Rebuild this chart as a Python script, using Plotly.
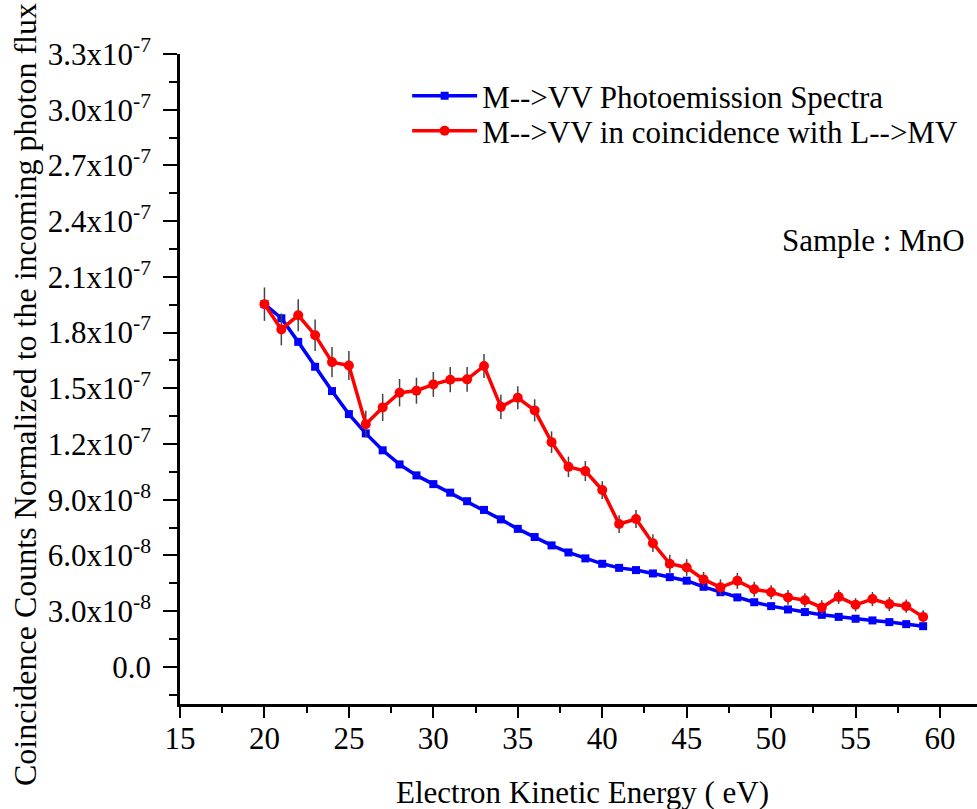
import plotly.graph_objects as go

# Electron kinetic energy (eV)
energy = list(range(20, 60))

# Values in units of 1e-8
photoemission = [19.53, 18.77, 17.50, 16.16, 14.85, 13.61, 12.57, 11.66, 10.90, 10.31,
                 9.84, 9.38, 8.92, 8.45, 7.94, 7.43, 6.99, 6.54, 6.16, 5.84,
                 5.55, 5.33, 5.21, 5.03, 4.83, 4.64, 4.31, 4.02, 3.74, 3.48,
                 3.27, 3.09, 2.95, 2.80, 2.69, 2.59, 2.50, 2.41, 2.30, 2.19]

coincidence = [19.53, 18.17, 18.93, 17.86, 16.41, 16.23, 13.07, 13.97, 14.76, 14.87,
               15.21, 15.46, 15.48, 16.20, 14.00, 14.49, 13.81, 12.10, 10.77, 10.54,
               9.52, 7.69, 7.96, 6.66, 5.55, 5.35, 4.71, 4.28, 4.63, 4.18,
               4.02, 3.74, 3.59, 3.20, 3.77, 3.34, 3.65, 3.38, 3.27, 2.69]

coincidence_err = [0.90, 0.86, 0.86, 0.85, 0.81, 0.78, 0.72, 0.73, 0.74, 0.70,
                   0.67, 0.68, 0.66, 0.64, 0.65, 0.62, 0.60, 0.58, 0.55, 0.54,
                   0.48, 0.48, 0.48, 0.48, 0.48, 0.45, 0.40, 0.43, 0.43, 0.40,
                   0.38, 0.40, 0.38, 0.38, 0.38, 0.36, 0.38, 0.38, 0.36, 0.36]

unit = 1e-8

y_tickvals = [0, 3e-8, 6e-8, 9e-8, 1.2e-7, 1.5e-7, 1.8e-7, 2.1e-7, 2.4e-7, 2.7e-7, 3.0e-7, 3.3e-7]
y_ticktext = ["0.0", "3.0x10<sup>-8</sup>", "6.0x10<sup>-8</sup>", "9.0x10<sup>-8</sup>",
              "1.2x10<sup>-7</sup>", "1.5x10<sup>-7</sup>", "1.8x10<sup>-7</sup>",
              "2.1x10<sup>-7</sup>", "2.4x10<sup>-7</sup>", "2.7x10<sup>-7</sup>",
              "3.0x10<sup>-7</sup>", "3.3x10<sup>-7</sup>"]
x_tickvals = [15, 20, 25, 30, 35, 40, 45, 50, 55, 60]

FONT = "Liberation Serif"

# layout geometry (pixels)
PLOT_TOP, PLOT_BOTTOM, PLOT_LEFT = 54, 704, 180
PH = PLOT_BOTTOM - PLOT_TOP
PW = 977 - PLOT_LEFT


def py(ypix):
    return (PLOT_BOTTOM - ypix) / PH


def px(xpix):
    return (xpix - PLOT_LEFT) / PW


fig = go.Figure()
fig.add_trace(go.Scatter(
    x=energy, y=[v * unit for v in photoemission],
    mode="lines+markers", name="M-->VV Photoemission Spectra",
    line=dict(color="#0000FF", width=3.5),
    marker=dict(symbol="square", size=8, color="#0000FF"),
    legend="legend",
))
fig.add_trace(go.Scatter(
    x=energy, y=[v * unit for v in coincidence],
    mode="lines+markers", name="M-->VV in coincidence with L-->MV",
    line=dict(color="#FF0000", width=3.5),
    marker=dict(symbol="circle", size=10, color="#FF0000"),
    error_y=dict(type="data", array=[e * unit for e in coincidence_err],
                 color="#444444", thickness=1.5, width=0),
    legend="legend2",
))

legend_common = dict(xanchor="left", yanchor="middle", bgcolor="rgba(0,0,0,0)",
                     font=dict(size=31, family=FONT, color="black"), itemwidth=65)

fig.update_layout(
    width=977, height=809,
    margin=dict(l=PLOT_LEFT, r=0, t=PLOT_TOP, b=809 - PLOT_BOTTOM),
    paper_bgcolor="white", plot_bgcolor="white",
    font=dict(family=FONT, size=31, color="black"),
    showlegend=True,
    legend=dict(x=0.285, y=py(96), **legend_common),
    legend2=dict(x=0.285, y=py(131), **legend_common),
    xaxis=dict(range=[15, 62.19], tickmode="array", tickvals=x_tickvals,
               showgrid=False, zeroline=False, showline=True, linecolor="black",
               linewidth=2.5, ticks="outside", ticklen=11, tickwidth=2,
               tickcolor="black", tickfont=dict(size=31, family=FONT),
               ticklabelstandoff=-6,
               minor=dict(ticks="outside", ticklen=6, tickwidth=2, tickcolor="black",
                          tick0=15, dtick=2.5, showgrid=False)),
    yaxis=dict(range=[-2.0e-8, 3.3e-7], tickmode="array", tickvals=y_tickvals,
               ticktext=y_ticktext, showgrid=False, zeroline=False, showline=True,
               linecolor="black", linewidth=2.5, ticks="outside", ticklen=14,
               tickwidth=2, tickcolor="black", tickfont=dict(size=31, family=FONT),
               ticklabelstandoff=6,
               minor=dict(ticks="outside", ticklen=8, tickwidth=2, tickcolor="black",
                          tick0=0, dtick=1.5e-8, showgrid=False)),
    annotations=[
        dict(text="Coincidence Counts Normalized to the incoming photon flux",
             xref="paper", yref="paper", x=px(25), y=py(395),
             xanchor="center", yanchor="middle", textangle=-90, showarrow=False,
             font=dict(size=32, family=FONT)),
        dict(text="Electron Kinetic Energy ( eV)", xref="paper", yref="paper",
             x=px(582), y=py(792), xanchor="center",
             yanchor="middle", showarrow=False, font=dict(size=31, family=FONT)),
        dict(text="Sample : MnO", xref="paper", yref="paper",
             x=px(780), y=py(240), xanchor="left",
             yanchor="middle", showarrow=False, font=dict(size=31, family=FONT)),
    ],
)

fig.write_html("out.html")
